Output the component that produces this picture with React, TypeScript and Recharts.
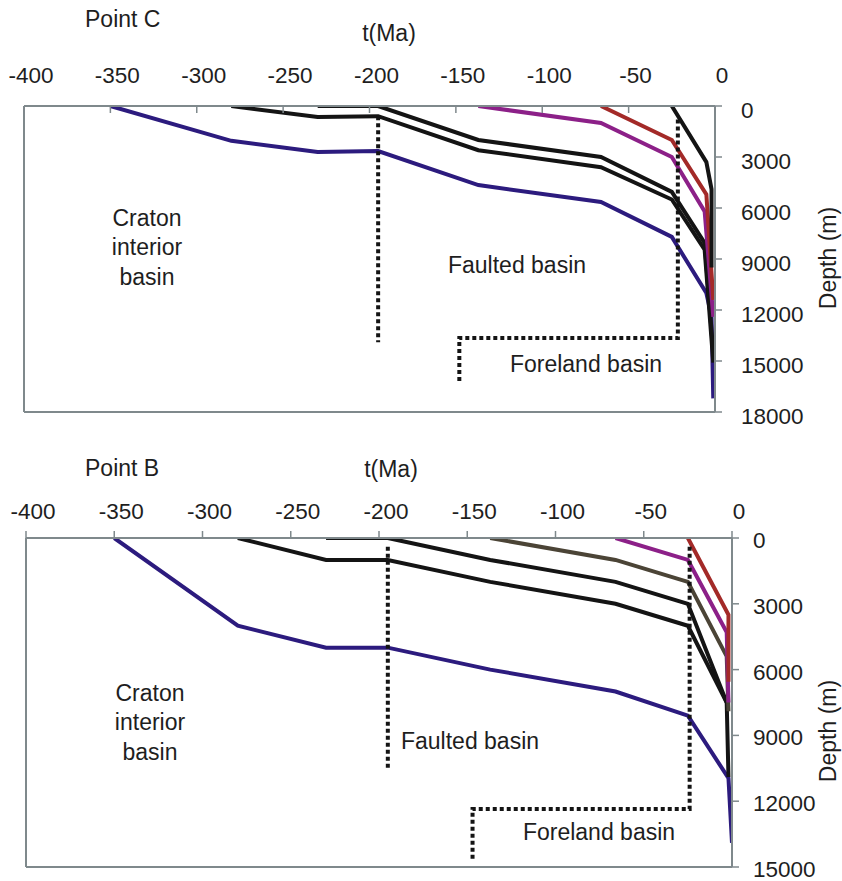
import React from 'react';
import { LineChart, Line, XAxis, YAxis, ReferenceLine } from 'recharts';

const FONT = '"Liberation Sans", Arial, Helvetica, sans-serif';
const AXIS = '#7f898c';
const TEXT = '#1e1e1e';
const NAVY = '#2c1b7e';
const BLACK = '#141414';
const MAGENTA = '#8c2088';
const RED = '#a32a28';
const OLIVE = '#4b4436';

const timeTicks = [-400, -350, -300, -250, -200, -150, -100, -50, 0];
const depthTicksC = [0, 3000, 6000, 9000, 12000, 15000, 18000];
const depthTicksB = [0, 3000, 6000, 9000, 12000, 15000];

// ---- Point C (t in Ma, d = depth in m) ----
const navyC = [
  { t: -350, d: 0 }, { t: -280, d: 2050 }, { t: -230, d: 2700 }, { t: -195, d: 2650 },
  { t: -137, d: 4650 }, { t: -66, d: 5650 }, { t: -25, d: 7700 }, { t: -5, d: 11000 },
  { t: -2, d: 12400 }, { t: -1, d: 17200 },
];
const black1C = [
  { t: -280, d: 0 }, { t: -230, d: 650 }, { t: -195, d: 600 }, { t: -137, d: 2600 },
  { t: -66, d: 3600 }, { t: -25, d: 5500 }, { t: -6, d: 8450 }, { t: -1, d: 15100 },
];
const black2C = [
  { t: -230, d: 0 }, { t: -195, d: 0 }, { t: -137, d: 2000 }, { t: -66, d: 3000 },
  { t: -25, d: 5050 }, { t: -6, d: 8050 }, { t: -1, d: 14500 },
];
const magentaC = [
  { t: -137, d: 0 }, { t: -66, d: 1000 }, { t: -25, d: 3000 }, { t: -6, d: 6200 }, { t: -1, d: 12400 },
];
const redC = [
  { t: -66, d: 0 }, { t: -25, d: 2000 }, { t: -5, d: 5200 }, { t: -1, d: 11400 },
];
const black3C = [
  { t: -25, d: 0 }, { t: -5, d: 3300 }, { t: -2, d: 4900 }, { t: -2, d: 9500 },
];
const faultedEdgeC = [{ t: -195, d: 600 }, { t: -195, d: 13900 }];
const forelandEdgeC = [
  { t: -21.5, d: 800 }, { t: -21.5, d: 13650 }, { t: -148, d: 13650 }, { t: -148, d: 16300 },
];

// ---- Point B ----
const navyB = [
  { t: -350, d: 0 }, { t: -280, d: 4000 }, { t: -230, d: 5000 }, { t: -195, d: 5000 },
  { t: -137, d: 6000 }, { t: -66, d: 7000 }, { t: -25, d: 8100 }, { t: -2, d: 10950 },
  { t: 0, d: 13900 },
];
const black1B = [
  { t: -280, d: 0 }, { t: -230, d: 1000 }, { t: -195, d: 1000 }, { t: -137, d: 2000 },
  { t: -66, d: 3000 }, { t: -25, d: 4000 }, { t: -3, d: 7500 }, { t: -2, d: 10900 },
];
const black2B = [
  { t: -230, d: 0 }, { t: -195, d: 0 }, { t: -137, d: 1000 }, { t: -66, d: 2000 },
  { t: -25, d: 3000 }, { t: -3, d: 7500 },
];
const oliveB = [
  { t: -137, d: 0 }, { t: -66, d: 1000 }, { t: -25, d: 2000 }, { t: -3, d: 5400 }, { t: -2, d: 7900 },
];
const magentaB = [
  { t: -66, d: 0 }, { t: -25, d: 1000 }, { t: -3, d: 4300 }, { t: -2, d: 7500 },
];
const redB = [
  { t: -25, d: 0 }, { t: -2, d: 3500 }, { t: -2, d: 6550 },
];
const faultedEdgeB = [{ t: -195, d: 400 }, { t: -195, d: 10600 }];
const forelandEdgeB = [
  { t: -24, d: 400 }, { t: -24, d: 12350 }, { t: -147, d: 12350 }, { t: -147, d: 14700 },
];

type Pt = { t: number; d: number };
type Series = { name: string; data: Pt[]; color: string; dotted?: boolean };

const seriesC: Series[] = [
  { name: 'navyC', data: navyC, color: NAVY },
  { name: 'black1C', data: black1C, color: BLACK },
  { name: 'black2C', data: black2C, color: BLACK },
  { name: 'magentaC', data: magentaC, color: MAGENTA },
  { name: 'redC', data: redC, color: RED },
  { name: 'black3C', data: black3C, color: BLACK },
  { name: 'faultedC', data: faultedEdgeC, color: BLACK, dotted: true },
  { name: 'forelandC', data: forelandEdgeC, color: BLACK, dotted: true },
];
const seriesB: Series[] = [
  { name: 'navyB', data: navyB, color: NAVY },
  { name: 'black1B', data: black1B, color: BLACK },
  { name: 'black2B', data: black2B, color: BLACK },
  { name: 'oliveB', data: oliveB, color: OLIVE },
  { name: 'magentaB', data: magentaB, color: MAGENTA },
  { name: 'redB', data: redB, color: RED },
  { name: 'faultedB', data: faultedEdgeB, color: BLACK, dotted: true },
  { name: 'forelandB', data: forelandEdgeB, color: BLACK, dotted: true },
];

type PanelProps = {
  series: Series[];
  depthTicks: number[];
  maxDepth: number;
  width: number;
  height: number;
  margin: { top: number; right: number; bottom: number; left: number };
  xTickDir: number; // +1 inward (down), -1 outward (up)
  xLabelUp: number;
  yLabelDx: number;
  yLabelDy: number;
};

function Panel(p: PanelProps) {
  const xTick = (props: any) => {
    const { x, y, payload } = props;
    return (
      <g>
        <line x1={x} y1={y} x2={x} y2={y + 7 * p.xTickDir} stroke={AXIS} strokeWidth={1.5} />
        <text x={x + 7} y={y - p.xLabelUp} textAnchor="middle" fontFamily={FONT} fontSize={22.5} fill={TEXT}>
          {payload.value}
        </text>
      </g>
    );
  };
  const yTick = (props: any) => {
    const { x, y, payload } = props;
    return (
      <g>
        <line x1={x} y1={y} x2={x + 7} y2={y} stroke={AXIS} strokeWidth={1.5} />
        <text x={x + p.yLabelDx} y={y + p.yLabelDy} textAnchor="start" fontFamily={FONT} fontSize={22.5} fill={TEXT}>
          {payload.value}
        </text>
      </g>
    );
  };
  return (
    <LineChart width={p.width} height={p.height} margin={p.margin}>
      <XAxis
        type="number"
        dataKey="t"
        domain={[-400, 0]}
        ticks={timeTicks}
        interval={0}
        orientation="top"
        height={50}
        allowDataOverflow
        axisLine={{ stroke: AXIS, strokeWidth: 2 }}
        tickLine={false}
        tickSize={0}
        tickMargin={0}
        tick={xTick}
      />
      <YAxis
        type="number"
        dataKey="d"
        domain={[0, p.maxDepth]}
        ticks={p.depthTicks}
        interval={0}
        reversed
        orientation="right"
        width={100}
        allowDataOverflow
        axisLine={{ stroke: AXIS, strokeWidth: 2 }}
        tickLine={false}
        tickSize={0}
        tickMargin={0}
        tick={yTick}
      />
      <ReferenceLine x={-400} stroke={AXIS} strokeWidth={2} />
      <ReferenceLine y={p.maxDepth} stroke={AXIS} strokeWidth={2} />
      {p.series.map((s) => (
        <Line
          key={s.name}
          name={s.name}
          data={s.data}
          dataKey="d"
          type="linear"
          stroke={s.color}
          strokeWidth={4}
          strokeDasharray={s.dotted ? '4 3' : undefined}
          dot={false}
          activeDot={false}
          isAnimationActive={false}
        />
      ))}
    </LineChart>
  );
}

const txt = { fontFamily: FONT, fontSize: 23, fill: TEXT } as const;

export default function App() {
  return (
    <div style={{ position: 'absolute', left: 0, top: 0, width: 842, height: 881, background: '#fff', overflow: 'hidden' }}>
      <div style={{ position: 'absolute', left: 0, top: 0 }}>
        <Panel
          series={seriesC}
          depthTicks={depthTicksC}
          maxDepth={18000}
          width={842}
          height={430}
          margin={{ top: 56, right: 27, bottom: 18, left: 24 }}
          xTickDir={1}
          xLabelUp={23}
          yLabelDx={26}
          yLabelDy={12}
        />
      </div>
      <div style={{ position: 'absolute', left: 0, top: 440 }}>
        <Panel
          series={seriesB}
          depthTicks={depthTicksB}
          maxDepth={15000}
          width={842}
          height={441}
          margin={{ top: 48, right: 10, bottom: 14, left: 26 }}
          xTickDir={-1}
          xLabelUp={19}
          yLabelDx={21}
          yLabelDy={10}
        />
      </div>
      <svg width={842} height={881} style={{ position: 'absolute', left: 0, top: 0, pointerEvents: 'none' }}>
        <text x={85} y={27} {...txt}>Point C</text>
        <text x={389} y={41} textAnchor="middle" {...txt}>t(Ma)</text>
        <text x={147} y={226} textAnchor="middle" {...txt}>Craton</text>
        <text x={147} y={255} textAnchor="middle" {...txt}>interior</text>
        <text x={147} y={285} textAnchor="middle" {...txt}>basin</text>
        <text x={517} y={273} textAnchor="middle" {...txt}>Faulted basin</text>
        <text x={586} y={372} textAnchor="middle" {...txt}>Foreland basin</text>
        <text transform="translate(836,258) rotate(-90)" textAnchor="middle" {...txt}>Depth (m)</text>

        <text x={85} y={476} {...txt}>Point B</text>
        <text x={391} y={477} textAnchor="middle" {...txt}>t(Ma)</text>
        <text x={150} y={701} textAnchor="middle" {...txt}>Craton</text>
        <text x={150} y={730} textAnchor="middle" {...txt}>interior</text>
        <text x={150} y={760} textAnchor="middle" {...txt}>basin</text>
        <text x={470} y={749} textAnchor="middle" {...txt}>Faulted basin</text>
        <text x={599} y={840} textAnchor="middle" {...txt}>Foreland basin</text>
        <text transform="translate(836,731) rotate(-90)" textAnchor="middle" {...txt}>Depth (m)</text>
      </svg>
    </div>
  );
}
